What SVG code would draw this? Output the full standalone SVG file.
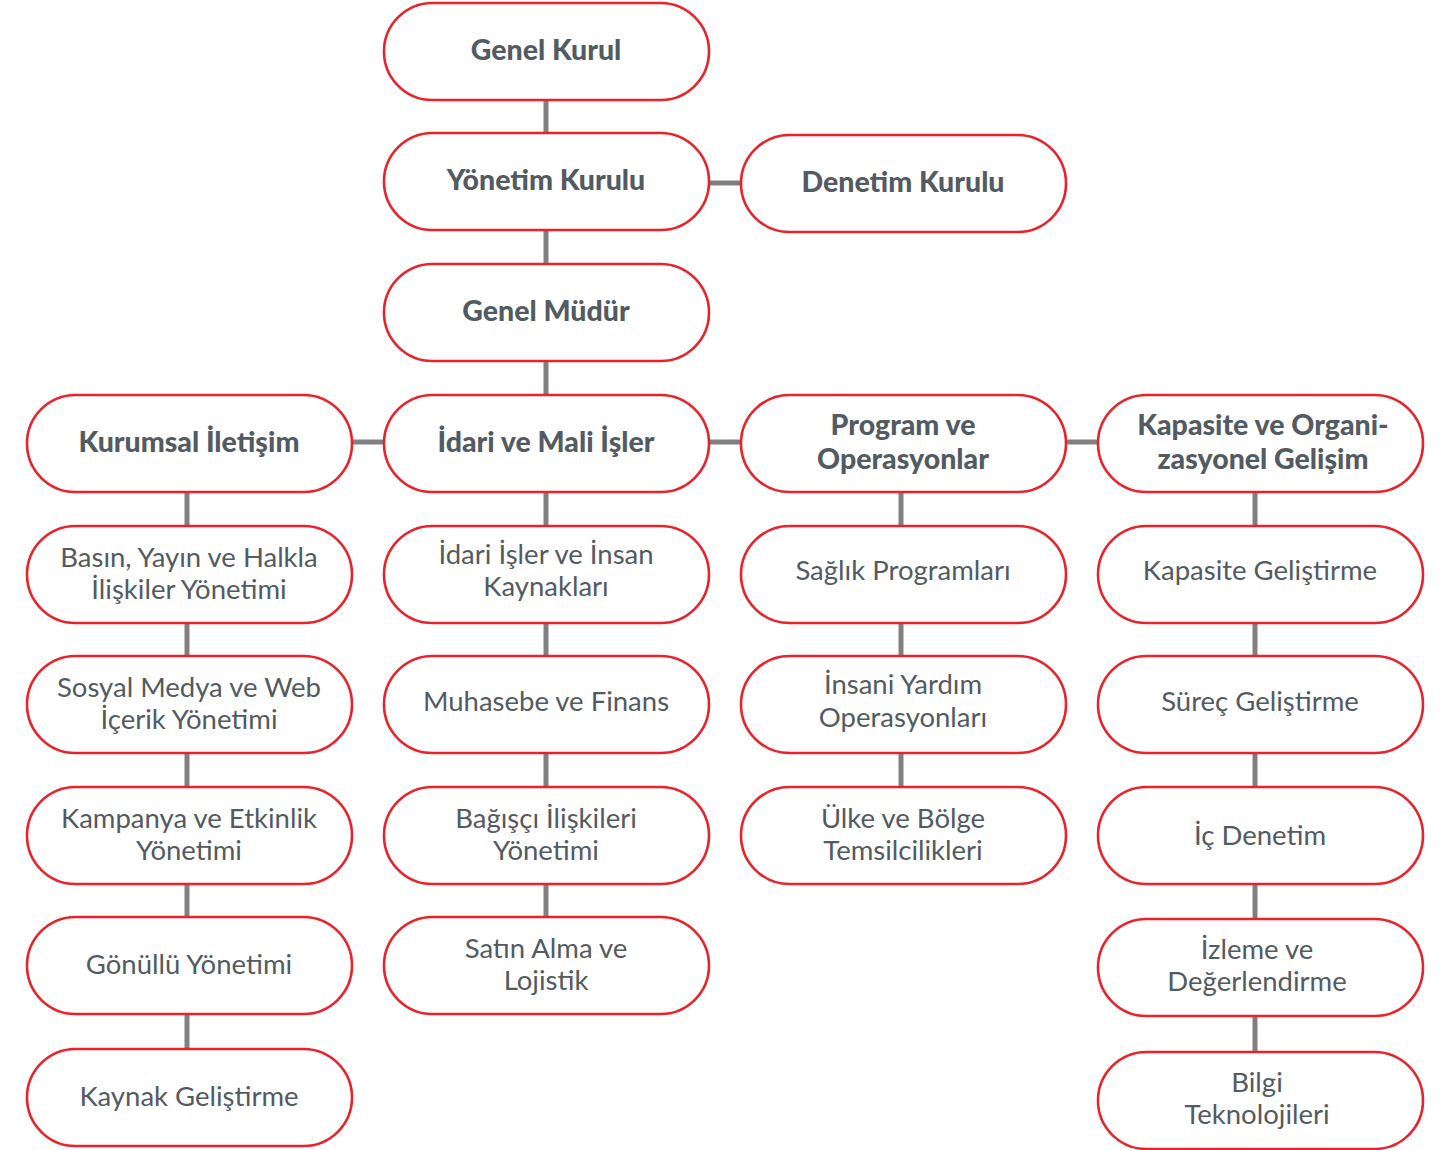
<svg xmlns="http://www.w3.org/2000/svg" width="1452" height="1150" viewBox="0 0 1452 1150">
<style>
.n rect{fill:#fff;stroke:#e8232b;stroke-width:2.6}
.n text{font-family:Lato,"Noto Sans",sans-serif;fill:#535b62;text-anchor:middle;font-size:27.5px}
.n text.b{font-weight:900;font-size:28.5px}
#connectors line{stroke:#808080;stroke-width:5}
</style>
<rect width="1452" height="1150" fill="#fff"/>
<g id="connectors">
<line x1="546" y1="100" x2="546" y2="133"/>
<line x1="546" y1="230" x2="546" y2="264"/>
<line x1="546" y1="361" x2="546" y2="395"/>
<line x1="709" y1="183" x2="741" y2="183"/>
<line x1="352" y1="442" x2="384" y2="442"/>
<line x1="709" y1="442" x2="741" y2="442"/>
<line x1="1066" y1="442" x2="1098" y2="442"/>
<line x1="187" y1="492" x2="187" y2="526"/>
<line x1="187" y1="623" x2="187" y2="656"/>
<line x1="187" y1="753" x2="187" y2="787"/>
<line x1="187" y1="884" x2="187" y2="917"/>
<line x1="187" y1="1014" x2="187" y2="1049"/>
<line x1="546" y1="492" x2="546" y2="526"/>
<line x1="546" y1="623" x2="546" y2="656"/>
<line x1="546" y1="753" x2="546" y2="787"/>
<line x1="546" y1="884" x2="546" y2="917"/>
<line x1="901" y1="492" x2="901" y2="526"/>
<line x1="901" y1="623" x2="901" y2="656"/>
<line x1="901" y1="753" x2="901" y2="787"/>
<line x1="1255" y1="492" x2="1255" y2="526"/>
<line x1="1255" y1="623" x2="1255" y2="656"/>
<line x1="1255" y1="753" x2="1255" y2="787"/>
<line x1="1255" y1="884" x2="1255" y2="919"/>
<line x1="1255" y1="1016" x2="1255" y2="1052"/>
</g>
<g id="genel-kurul" class="n"><rect x="384" y="3" width="325" height="97" rx="48.5"/><text class="b" x="546" y="60">Genel Kurul</text></g>
<g id="yonetim-kurulu" class="n"><rect x="384" y="133" width="325" height="97" rx="48.5"/><text class="b" x="546" y="190">Yönetim Kurulu</text></g>
<g id="denetim-kurulu" class="n"><rect x="741" y="135" width="325" height="97" rx="48.5"/><text class="b" x="903" y="192">Denetim Kurulu</text></g>
<g id="genel-mudur" class="n"><rect x="384" y="264" width="325" height="97" rx="48.5"/><text class="b" x="546" y="321">Genel Müdür</text></g>
<g id="kurumsal-iletisim" class="n"><rect x="27" y="395" width="325" height="97" rx="48.5"/><text class="b" x="189" y="452">Kurumsal İletişim</text></g>
<g id="idari-mali" class="n"><rect x="384" y="395" width="325" height="97" rx="48.5"/><text class="b" x="546" y="452">İdari ve Mali İşler</text></g>
<g id="program-operasyonlar" class="n"><rect x="741" y="395" width="325" height="97" rx="48.5"/><text class="b" x="903" y="435">Program ve</text><text class="b" x="903" y="469">Operasyonlar</text></g>
<g id="kapasite-organizasyonel" class="n"><rect x="1098" y="395" width="325" height="97" rx="48.5"/><text class="b" x="1263" y="435">Kapasite ve Organi-</text><text class="b" x="1263" y="469">zasyonel Gelişim</text></g>
<g id="basin" class="n"><rect x="27" y="526" width="325" height="97" rx="48.5"/><text x="189" y="567">Basın, Yayın ve Halkla</text><text x="189" y="599">İlişkiler Yönetimi</text></g>
<g id="sosyal-medya" class="n"><rect x="27" y="656" width="325" height="97" rx="48.5"/><text x="189" y="697">Sosyal Medya ve Web</text><text x="189" y="729">İçerik Yönetimi</text></g>
<g id="kampanya" class="n"><rect x="27" y="787" width="325" height="97" rx="48.5"/><text x="189" y="828">Kampanya ve Etkinlik</text><text x="189" y="860">Yönetimi</text></g>
<g id="gonullu" class="n"><rect x="27" y="917" width="325" height="97" rx="48.5"/><text x="189" y="974">Gönüllü Yönetimi</text></g>
<g id="kaynak-gelistirme" class="n"><rect x="27" y="1049" width="325" height="97" rx="48.5"/><text x="189" y="1106">Kaynak Geliştirme</text></g>
<g id="idari-isler-ik" class="n"><rect x="384" y="526" width="325" height="97" rx="48.5"/><text x="546" y="564">İdari İşler ve İnsan</text><text x="546" y="596">Kaynakları</text></g>
<g id="muhasebe" class="n"><rect x="384" y="656" width="325" height="97" rx="48.5"/><text x="546" y="711">Muhasebe ve Finans</text></g>
<g id="bagisci" class="n"><rect x="384" y="787" width="325" height="97" rx="48.5"/><text x="546" y="828">Bağışçı İlişkileri</text><text x="546" y="860">Yönetimi</text></g>
<g id="satin-alma" class="n"><rect x="384" y="917" width="325" height="97" rx="48.5"/><text x="546" y="958">Satın Alma ve</text><text x="546" y="990">Lojistik</text></g>
<g id="saglik" class="n"><rect x="741" y="526" width="325" height="97" rx="48.5"/><text x="903" y="580">Sağlık Programları</text></g>
<g id="insani-yardim" class="n"><rect x="741" y="656" width="325" height="97" rx="48.5"/><text x="903" y="694">İnsani Yardım</text><text x="903" y="727">Operasyonları</text></g>
<g id="ulke-bolge" class="n"><rect x="741" y="787" width="325" height="97" rx="48.5"/><text x="903" y="828">Ülke ve Bölge</text><text x="903" y="860">Temsilcilikleri</text></g>
<g id="kapasite-gelistirme" class="n"><rect x="1098" y="526" width="325" height="97" rx="48.5"/><text x="1260" y="580">Kapasite Geliştirme</text></g>
<g id="surec-gelistirme" class="n"><rect x="1098" y="656" width="325" height="97" rx="48.5"/><text x="1260" y="711">Süreç Geliştirme</text></g>
<g id="ic-denetim" class="n"><rect x="1098" y="787" width="325" height="97" rx="48.5"/><text x="1260" y="845">İç Denetim</text></g>
<g id="izleme" class="n"><rect x="1098" y="919" width="325" height="97" rx="48.5"/><text x="1257" y="959">İzleme ve</text><text x="1257" y="991">Değerlendirme</text></g>
<g id="bilgi-teknolojileri" class="n"><rect x="1098" y="1052" width="325" height="97" rx="48.5"/><text x="1257" y="1092">Bilgi</text><text x="1257" y="1124">Teknolojileri</text></g>
</svg>
